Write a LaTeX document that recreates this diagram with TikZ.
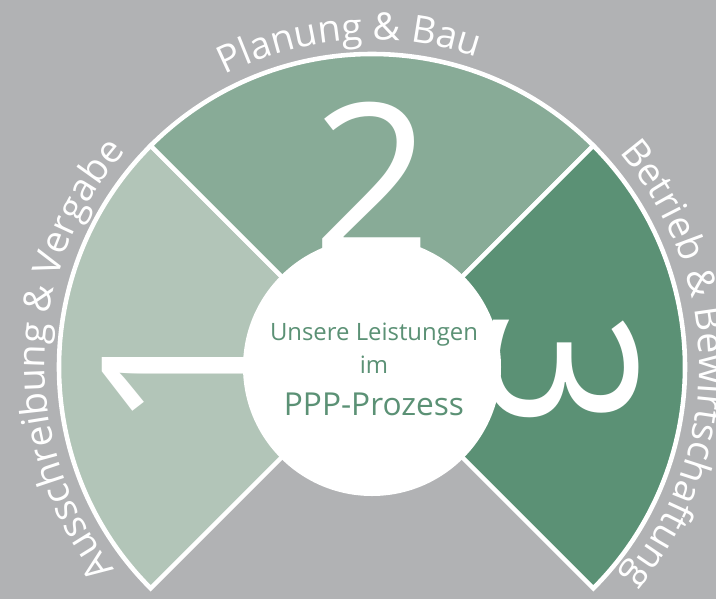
\documentclass[tikz,border=0pt]{standalone}
\usepackage{fontspec}
\setmainfont{Open Sans}
\usetikzlibrary{decorations.text}
\definecolor{bggray}{HTML}{B1B2B4}
\definecolor{phaseone}{HTML}{B2C5B8}
\definecolor{phasetwo}{HTML}{88AB97}
\definecolor{phasethree}{HTML}{5B9175}
\newcommand{\arcfont}{\fontsize{21.5}{26}\selectfont}
\newcommand{\digitfont}{\fontsize{119}{119}\selectfont}
\begin{document}
\begin{tikzpicture}[x=0.02cm, y=0.02cm,
    sector/.style={draw=white, line width=2.6pt},
    digit/.style={text=white, font=\digitfont, inner sep=0pt, anchor=base},
    hubtext/.style={text=phasethree, inner sep=0pt, anchor=base},
    arclabel/.style={decorate, decoration={text along path, text align=center,
        text color=white, text={|\arcfont|#1}}}]
  \fill[bggray] (-372,-232) rectangle (344,367);
  \useasboundingbox (-372,-232) rectangle (344,367);
  \filldraw[sector, fill=phaseone] (0,0) -- (135:313) arc[start angle=135, end angle=225, radius=313] -- cycle;
  \filldraw[sector, fill=phasetwo] (0,0) -- (45:313) arc[start angle=45, end angle=135, radius=313] -- cycle;
  \filldraw[sector, fill=phasethree] (0,0) -- (-45:313) arc[start angle=-45, end angle=45, radius=313] -- cycle;
  \fill[white] (0,0) circle[radius=129];
  \node[digit] (two) at (0,114) {2};
  \node[digit, rotate=90] (one) at (-120,-4) {1};
  \node[digit, rotate=-90] (three) at (115,-3) {3};
  \node[hubtext, font=\fontsize{13.6}{16}\selectfont] (leist) at (2,27) {Unsere Leistungen};
  \node[hubtext, font=\fontsize{13.6}{16}\selectfont] (im) at (2,-6) {im};
  \node[hubtext, font=\fontsize{18}{21}\selectfont] (ppp) at (2,-48) {PPP-Prozess};
  \path[arclabel={Planung {\&} Bau}] (164:327) arc[start angle=164, end angle=24, radius=327];
  \path[arclabel={Ausschreibung {\&} Vergabe}] (248.5:327) arc[start angle=248.5, end angle=108.5, radius=327];
  \path[arclabel={Betrieb {\&} Bewirtschaftung}] (70.5:327) arc[start angle=70.5, end angle=-69.5, radius=327];
\end{tikzpicture}
\end{document}
